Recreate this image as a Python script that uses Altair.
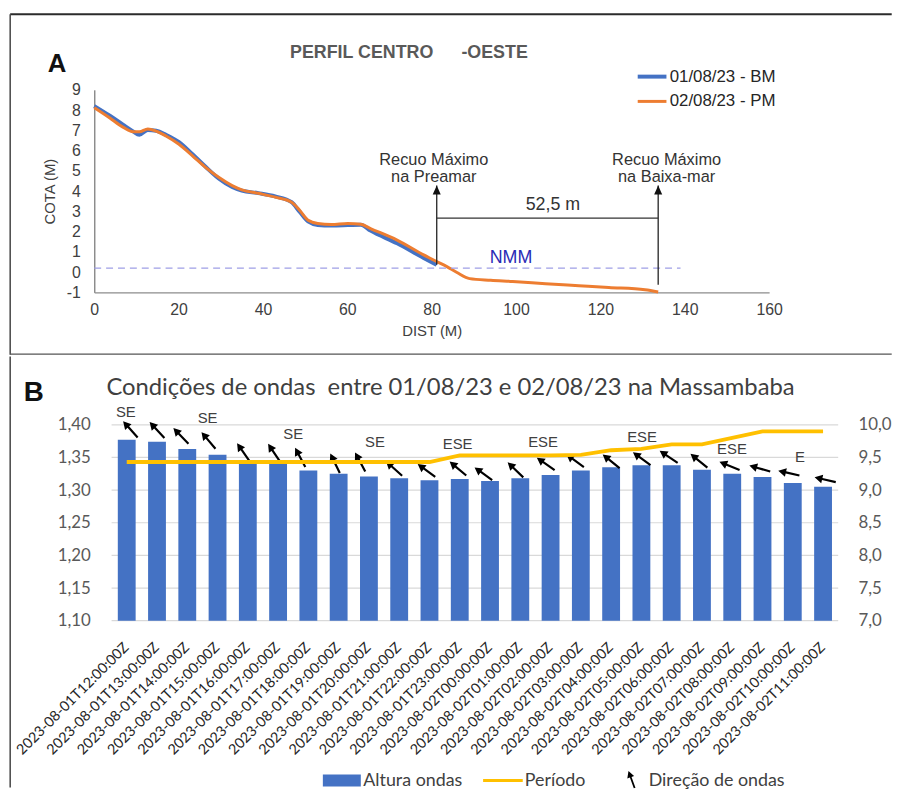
import json
import altair as alt
import pandas as pd

# ================= Panel A : beach profile =================
serie_names = ["01/08/23 - BM", "02/08/23 - PM"]
serie_colors = ["#4472C4", "#ED7D31"]

dist_bm = [0, 3.7, 6.8, 9.2, 10.7, 12.7, 14.7, 17, 20.1, 23.3, 26.4, 29.5, 32.7, 35,
           38.9, 42.9, 46.8, 48.7, 50.7, 53, 56.2, 60.1, 63.2, 65.5, 71.8, 78.1, 81.2]
cota_bm = [8.2, 7.72, 7.28, 6.95, 6.78, 7.02, 6.98, 6.78, 6.42, 5.82, 5.2, 4.62, 4.2, 4.02,
           3.9, 3.74, 3.45, 2.98, 2.5, 2.33, 2.3, 2.32, 2.34, 2.05, 1.42, 0.70, 0.36]

dist_pm = [0, 3.7, 6.8, 9.2, 10.7, 12.7, 14.7, 17, 20.1, 23.3, 26.4, 29.5, 32.7, 35,
           38.9, 42.9, 46.8, 48.7, 50.7, 53, 56.2, 60.1, 63.2, 65.5, 71.8, 78.1, 81.2,
           83.6, 86, 89, 94, 99.2, 107, 114.9, 122, 130.6, 133.7]
cota_pm = [8.12, 7.61, 7.16, 6.93, 6.93, 7.07, 6.96, 6.72, 6.31, 5.74, 5.17, 4.68, 4.27, 4.06,
           3.89, 3.70, 3.45, 3.05, 2.56, 2.40, 2.35, 2.40, 2.36, 2.15, 1.58, 0.85, 0.52,
           0.27, -0.02, -0.32, -0.40, -0.46, -0.57, -0.67, -0.76, -0.87, -0.98]

x_ticks_a = [0, 20, 40, 60, 80, 100, 120, 140, 160]
y_ticks_a = [-1, 0, 1, 2, 3, 4, 5, 6, 7, 8, 9]

nmm_level = [0.2]
nmm_start = [0]
nmm_end = [139]
nmm_label = ["NMM"]
nmm_label_x = [98.8]
nmm_label_y = [0.68]

recuo_x = [81.2, 133.7]
recuo_base = [0.36, -0.62]
recuo_tip = [4.27, 4.27]
recuo_text = ["Recuo Máximo\nna Preamar", "Recuo Máximo\nna Baixa-mar"]
recuo_text_x = [80.5, 135.7]
recuo_text_y = [5.54, 5.54]
span_y = [2.67]
span_label = ["52,5 m"]
span_label_x = [108.75]
span_label_y = [3.29]

# ================= Panel B : wave conditions =================
times = ["2023-08-01T12:00:00Z", "2023-08-01T13:00:00Z", "2023-08-01T14:00:00Z",
         "2023-08-01T15:00:00Z", "2023-08-01T16:00:00Z", "2023-08-01T17:00:00Z",
         "2023-08-01T18:00:00Z", "2023-08-01T19:00:00Z", "2023-08-01T20:00:00Z",
         "2023-08-01T21:00:00Z", "2023-08-01T22:00:00Z", "2023-08-01T23:00:00Z",
         "2023-08-02T00:00:00Z", "2023-08-02T01:00:00Z", "2023-08-02T02:00:00Z",
         "2023-08-02T03:00:00Z", "2023-08-02T04:00:00Z", "2023-08-02T05:00:00Z",
         "2023-08-02T06:00:00Z", "2023-08-02T07:00:00Z", "2023-08-02T08:00:00Z",
         "2023-08-02T09:00:00Z", "2023-08-02T10:00:00Z", "2023-08-02T11:00:00Z"]
altura = [1.377, 1.374, 1.363, 1.354, 1.340, 1.340, 1.330, 1.325, 1.321, 1.318, 1.315, 1.317,
          1.314, 1.318, 1.323, 1.330, 1.335, 1.338, 1.338, 1.331, 1.325, 1.320, 1.311, 1.305]
periodo = [9.43, 9.43, 9.43, 9.43, 9.43, 9.43, 9.43, 9.43, 9.43, 9.43, 9.43, 9.53,
           9.53, 9.53, 9.53, 9.54, 9.61, 9.63, 9.70, 9.70, 9.80, 9.90, 9.90, 9.90]
# wave direction arrows: elevation (deg above the westward horizontal) and arrow centres
dir_elev = [48, 47, 46, 50, 55, 56, 62, 64, 62, 42, 36, 40,
            36, 44, 35, 36, 39, 36, 34, 39, 22, 16, 13, 13]
arrow_x = [0.12, 1.00, 1.79, 2.70, 3.85, 4.87, 5.73, 6.88, 7.71, 8.83, 9.90, 10.94,
           11.78, 12.84, 13.84, 14.81, 16.00, 17.01, 17.90, 18.90, 19.91, 20.91, 21.87, 23.07]
arrow_y = [1.393, 1.392, 1.383, 1.376, 1.358, 1.357, 1.350, 1.341, 1.343, 1.333, 1.330, 1.333,
           1.325, 1.331, 1.340, 1.345, 1.344, 1.348, 1.351, 1.345, 1.337, 1.333, 1.326, 1.316]
dir_labels = ["SE", "SE", "SE", "SE", "ESE", "ESE", "ESE", "ESE", "E"]
dir_label_x = [-0.03, 2.67, 5.50, 8.20, 10.93, 13.75, 17.02, 19.99, 22.24]
dir_label_y = [1.420, 1.411, 1.386, 1.373, 1.370, 1.373, 1.381, 1.363, 1.351]
y_ticks_b = [1.10, 1.15, 1.20, 1.25, 1.30, 1.35, 1.40]
y2_ticks_b = [7.0, 7.5, 8.0, 8.5, 9.0, 9.5, 10.0]
legend_b = ["Altura ondas", "Período", "Direção de ondas"]
legend_b_colors = ["#4472C4", "#FFC000", "#000000"]

ARROW = "M-0.1,1L0.1,1L0.1,-0.28L0.4,-0.28L0,-1L-0.4,-0.28L-0.1,-0.28Z"
FA = "Liberation Sans"
FB = "Lato"
one = pd.DataFrame({"k": [0]})


def txt(s, x, y, **kw):
    return alt.Chart(pd.DataFrame({"t": [s]})).mark_text(**kw).encode(
        x=alt.value(x), y=alt.value(y), text="t:N")


def hrule(x1, x2, y, **kw):
    return alt.Chart(one).mark_rule(**kw).encode(x=alt.value(x1), x2=alt.value(x2), y=alt.value(y))


def vrule(x, y1, y2, **kw):
    return alt.Chart(one).mark_rule(**kw).encode(x=alt.value(x), y=alt.value(y1), y2=alt.value(y2))


# ---------------- Panel A chart ----------------
WA, HA = 681, 204.4
xsA = alt.Scale(domain=[0, 160], nice=False, zero=False)
ysA = alt.Scale(domain=[-1, 9], nice=False, zero=False)

x_axis_a = alt.Axis(values=x_ticks_a, labelExpr="'' + datum.value", labelFont=FA, labelFontSize=16,
                    labelColor="#404040", labelPadding=9, ticks=False, domainColor="#8c8c8c",
                    domainWidth=1.5, grid=False, labelOverlap=False, labelFlush=False,
                    title="DIST (M)", titleFont=FA, titleFontSize=15,
                    titleFontWeight="normal", titleColor="#404040", titlePadding=7)
y_axis_a = alt.Axis(values=y_ticks_a, labelExpr="'' + datum.value", labelFont=FA, labelFontSize=16,
                    labelColor="#404040", labelPadding=14, ticks=False, domainColor="#8c8c8c",
                    domainWidth=1.5, grid=False, labelOverlap=False, labelFlush=False,
                    title="COTA (M)", titleFont=FA, titleFontSize=15,
                    titleFontWeight="normal", titleColor="#404040", titlePadding=9)


def XA(f):
    return alt.X(f, scale=xsA, axis=x_axis_a)


def YA(f):
    return alt.Y(f, scale=ysA, axis=y_axis_a)


df_bm = pd.DataFrame({"dist": dist_bm, "cota": cota_bm})
df_pm = pd.DataFrame({"dist": dist_pm, "cota": cota_pm})

line_bm = alt.Chart(df_bm).mark_line(color=serie_colors[0], strokeWidth=4, interpolate="monotone").encode(
    x=XA("dist:Q"), y=YA("cota:Q"))
line_pm = alt.Chart(df_pm).mark_line(color=serie_colors[1], strokeWidth=3, interpolate="monotone").encode(
    x=XA("dist:Q"), y=YA("cota:Q"))

nmm = alt.Chart(pd.DataFrame({"x0": nmm_start, "x1": nmm_end, "y": nmm_level})).mark_rule(
    color="#9f9fe6", strokeWidth=1.4, strokeDash=[7, 5]).encode(
    x=XA("x0:Q"), x2="x1:Q", y=YA("y:Q"))
nmm_txt = alt.Chart(pd.DataFrame({"x": nmm_label_x, "y": nmm_label_y, "t": nmm_label})).mark_text(
    font=FA, fontSize=18, color="#2a2ab5", align="center", baseline="middle").encode(
    x=XA("x:Q"), y=YA("y:Q"), text="t:N")

df_rec = pd.DataFrame({"x": recuo_x, "y0": recuo_base, "y1": recuo_tip,
                       "tx": recuo_text_x, "ty": recuo_text_y, "t": recuo_text})
rec_rules = alt.Chart(df_rec).mark_rule(color="#222222", strokeWidth=1.3).encode(
    x=XA("x:Q"), y=YA("y0:Q"), y2="y1:Q")
rec_heads = alt.Chart(df_rec).mark_point(shape="M0,-1L0.9,1L-0.9,1Z", filled=True, color="#111111",
                                         opacity=1, size=81, strokeWidth=0, yOffset=4.5).encode(
    x=XA("x:Q"), y=YA("y1:Q"))
rec_txt = alt.Chart(df_rec).mark_text(font=FA, fontSize=16.5, lineHeight=17, color="#333333",
                                      align="center", baseline="middle", lineBreak="\n").encode(
    x=XA("tx:Q"), y=YA("ty:Q"), text="t:N")
span = alt.Chart(pd.DataFrame({"x0": [recuo_x[0]], "x1": [recuo_x[1]], "y": span_y})).mark_rule(
    color="#333333", strokeWidth=1.3).encode(x=XA("x0:Q"), x2="x1:Q", y=YA("y:Q"))
span_txt = alt.Chart(pd.DataFrame({"x": span_label_x, "y": span_label_y, "t": span_label})).mark_text(
    font=FA, fontSize=18, color="#333333", align="center", baseline="middle").encode(
    x=XA("x:Q"), y=YA("y:Q"), text="t:N")

# legend of panel A
leg_a = []
for k, (name, col) in enumerate(zip(serie_names, serie_colors)):
    yk = -13.3 + 25 * k
    leg_a.append(hrule(548.4, 577.4, yk, color=col, strokeWidth=4 if k == 0 else 3))
    leg_a.append(txt(name, 580.7, yk, font=FA, fontSize=17, color="#262626", align="left", baseline="middle"))

decor_a = [
    hrule(-84.8, 804.7, -76.3, color="#2b2b2b", strokeWidth=2),
    vrule(-84.8, -76.3, 267.25, color="#444444", strokeWidth=1.5),
    hrule(-84.8, 804.7, 266.7, color="#555555", strokeWidth=1.5),
    txt("PERFIL CENTRO", 269.9, -36.6, font=FA, fontSize=18, fontWeight="bold", color="#595959",
        align="center", baseline="middle"),
    txt("-OESTE", 404, -36.6, font=FA, fontSize=18, fontWeight="bold", color="#595959",
        align="center", baseline="middle"),
    txt("A", -37.6, -25.5, font=FA, fontSize=26, fontWeight="bold", color="#111111",
        align="center", baseline="middle"),
]

panelA = alt.layer(line_bm, line_pm, nmm, nmm_txt, rec_rules, rec_heads, span, rec_txt, span_txt,
                   *leg_a, *decor_a).properties(width=WA, height=HA)

# ---------------- Panel B chart ----------------
WB, HB = 755.7, 197.7
xsB = alt.Scale(domain=[-0.91, 23.5], nice=False, zero=False)
ysB = alt.Scale(domain=[1.10, 1.40], nice=False, zero=False)
ysB2 = alt.Scale(domain=[7.0, 10.0], nice=False, zero=False)

idx = list(range(len(times)))
y_axis_b = alt.Axis(values=y_ticks_b, labelExpr="replace(format(datum.value, '.2f'), '.', ',')",
                    labelFont=FB, labelFontSize=17, labelColor="#595959", labelPadding=4,
                    labelOverlap=False, labelFlush=False,
                    domain=False, ticks=False, grid=False, title=None)
y2_axis_b = alt.Axis(values=y2_ticks_b, labelExpr="replace(format(datum.value, '.1f'), '.', ',')",
                     orient="right", labelFont=FB, labelFontSize=17, labelColor="#595959",
                     labelPadding=15, labelOverlap=False, labelFlush=False,
                     domain=False, ticks=False, grid=False, title=None)


def XB(f):
    return alt.X(f, scale=xsB, axis=None)


def YB(f):
    return alt.Y(f, scale=ysB, axis=y_axis_b)


dfB = pd.DataFrame({"i": idx, "t": times, "altura": altura, "periodo": periodo})

grid_b = alt.Chart(pd.DataFrame({"g": y_ticks_b})).mark_rule(color="#d9d9d9", strokeWidth=1.2).encode(
    x=alt.XDatum(-0.5, scale=xsB, axis=None), x2=alt.X2Datum(23.5), y=YB("g:Q"))
bars = alt.Chart(dfB).mark_bar(size=18, color="#4472C4").encode(
    x=XB("i:Q"), y=YB("altura:Q"), y2=alt.Y2Datum(1.10))
# time-stamp labels under the bars (rotated 45 degrees)
xlabels = alt.Chart(dfB).mark_text(font=FB, fontSize=14.5, color="#262626", angle=315,
                                   align="right", baseline="middle").encode(
    x=XB("i:Q"), y=alt.value(HB + 25), text="t:N")
df_arrow = pd.DataFrame({"ax": arrow_x, "ay": arrow_y, "elev": dir_elev})
arrows = alt.Chart(df_arrow).transform_calculate(rot="270 + datum.elev").mark_point(
    shape=ARROW, filled=True, color="#000000", opacity=1, size=480, strokeWidth=0).encode(
    x=XB("ax:Q"), y=YB("ay:Q"), angle=alt.Angle("rot:Q", scale=None))
dir_txt = alt.Chart(pd.DataFrame({"lx": dir_label_x, "ly": dir_label_y, "t": dir_labels})).mark_text(
    font=FA, fontSize=15, color="#404040", align="center", baseline="middle").encode(
    x=XB("lx:Q"), y=YB("ly:Q"), text="t:N")

# legend of panel B
leg_b = [
    alt.Chart(one).mark_rect(color=legend_b_colors[0]).encode(
        x=alt.value(230.7), x2=alt.value(269), y=alt.value(353), y2=alt.value(365)),
    txt(legend_b[0], 271.5, 359, font=FB, fontSize=18, color="#404040", align="left", baseline="middle"),
    hrule(392.4, 432.4, 359, color=legend_b_colors[1], strokeWidth=3),
    txt(legend_b[1], 434.5, 359, font=FB, fontSize=18, color="#404040", align="left", baseline="middle"),
    alt.Chart(one).mark_point(shape=ARROW, filled=True, color=legend_b_colors[2], opacity=1,
                              size=330, strokeWidth=0, angle=340).encode(
        x=alt.value(542.2), y=alt.value(358)),
    txt(legend_b[2], 559.5, 359, font=FB, fontSize=18, color="#404040", align="left", baseline="middle"),
]
decor_b = [
    vrule(-84.8, -69, 366, color="#444444", strokeWidth=1.5),
    txt("B", -61, -31.5, font=FA, fontSize=28, fontWeight="bold", color="#111111",
        align="center", baseline="middle"),
    txt("Condições de ondas\u00a0 entre 01/08/23 e 02/08/23 na Massambaba", 359.5, -37.3,
        font=FB, fontSize=24, color="#404040", align="center", baseline="middle"),
]

left_b = alt.layer(grid_b, bars, xlabels, arrows, dir_txt, *leg_b, *decor_b)
line_b = alt.Chart(dfB).mark_line(color="#FFC000", strokeWidth=3.8).encode(
    x=XB("i:Q"),
    y=alt.Y("periodo:Q", scale=ysB2, axis=y2_axis_b))

panelB = alt.layer(left_b, line_b).resolve_scale(y="independent").properties(width=WB, height=HB)

chart = alt.vconcat(panelA, panelB, spacing=0).configure_view(stroke=None).properties(
    padding={"left": 1, "top": 1, "right": 0, "bottom": 0})

chart.save("out.html", embed_options={"renderer": "svg", "actions": False})
